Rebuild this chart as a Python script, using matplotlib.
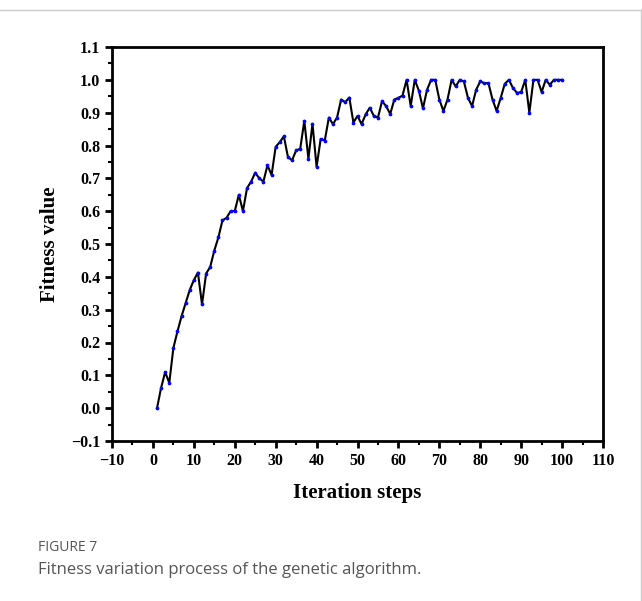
import matplotlib
matplotlib.use("Agg")
import matplotlib.pyplot as plt
from matplotlib.ticker import MultipleLocator

iterations = list(range(1, 101))
fitness = [0.0, 0.062, 0.11, 0.077, 0.183, 0.234, 0.28, 0.32, 0.36, 0.39,
           0.413, 0.316, 0.41, 0.43, 0.48, 0.52, 0.572, 0.58, 0.6, 0.6,
           0.65, 0.6, 0.67, 0.69, 0.717, 0.70, 0.69, 0.74, 0.71, 0.796,
           0.81, 0.828, 0.765, 0.755, 0.785, 0.79, 0.875, 0.76, 0.866, 0.735,
           0.82, 0.815, 0.885, 0.865, 0.885, 0.94, 0.932, 0.946, 0.87, 0.89,
           0.865, 0.895, 0.915, 0.89, 0.885, 0.935, 0.92, 0.896, 0.94, 0.945,
           0.952, 1.0, 0.92, 1.0, 0.967, 0.913, 0.97, 1.0, 1.0, 0.94,
           0.905, 0.94, 1.0, 0.98, 1.0, 0.995, 0.945, 0.92, 0.97, 0.995,
           0.99, 0.99, 0.94, 0.905, 0.945, 0.988, 1.0, 0.975, 0.96, 0.963,
           1.0, 0.9, 1.0, 1.0, 0.963, 1.0, 0.985, 1.0, 1.0, 1.0]

fig = plt.figure(figsize=(6.42, 6.01), dpi=100)
fig.add_artist(plt.Line2D([0, 1], [1-10/601, 1-10/601], color="#cccccc", lw=1))
fig.add_artist(plt.Line2D([1-1/642, 1-1/642], [1-10/601, 0], color="#cccccc", lw=1))
ax = fig.add_axes([112/642, 1-441/601, 491/642, 394/601])
ax.plot(iterations, fitness, color="black", lw=1.5, marker="o", ms=1.7,
        mfc="blue", mec="blue")
ax.set_xlim(-10, 110)
ax.set_ylim(-0.1, 1.1)
ax.xaxis.set_major_locator(MultipleLocator(10))
ax.yaxis.set_major_locator(MultipleLocator(0.1))
ax.xaxis.set_minor_locator(MultipleLocator(5))
ax.yaxis.set_minor_locator(MultipleLocator(0.05))
ax.yaxis.set_major_formatter(plt.FuncFormatter(lambda v, p: f"{v:.1f}".replace("-", "\u2212")))
ax.xaxis.set_major_formatter(plt.FuncFormatter(lambda v, p: f"{v:.0f}".replace("-", "\u2212")))
for s in ax.spines.values():
    s.set_linewidth(2)
ax.tick_params(which="major", length=5, width=2, direction="out")
ax.tick_params(which="minor", length=3, width=1.5, direction="out")
fnt = dict(family="Liberation Serif", weight="bold")
for lab in ax.get_xticklabels() + ax.get_yticklabels():
    lab.set_fontfamily("Liberation Serif"); lab.set_fontweight("bold"); lab.set_fontsize(11.5)
ax.set_xlabel("Iteration steps", fontsize=15, labelpad=10, **fnt)
ax.set_ylabel("Fitness value", fontsize=15, labelpad=8, **fnt)
fig.text(38/642, 1-551/601, "FIGURE 7", fontsize=10, color="#555555", family="Open Sans")
fig.text(38/642, 1-574/601, "Fitness variation process of the genetic algorithm.",
         fontsize=12, color="#555555", family="Open Sans")
fig.savefig("out.png", dpi=100)
